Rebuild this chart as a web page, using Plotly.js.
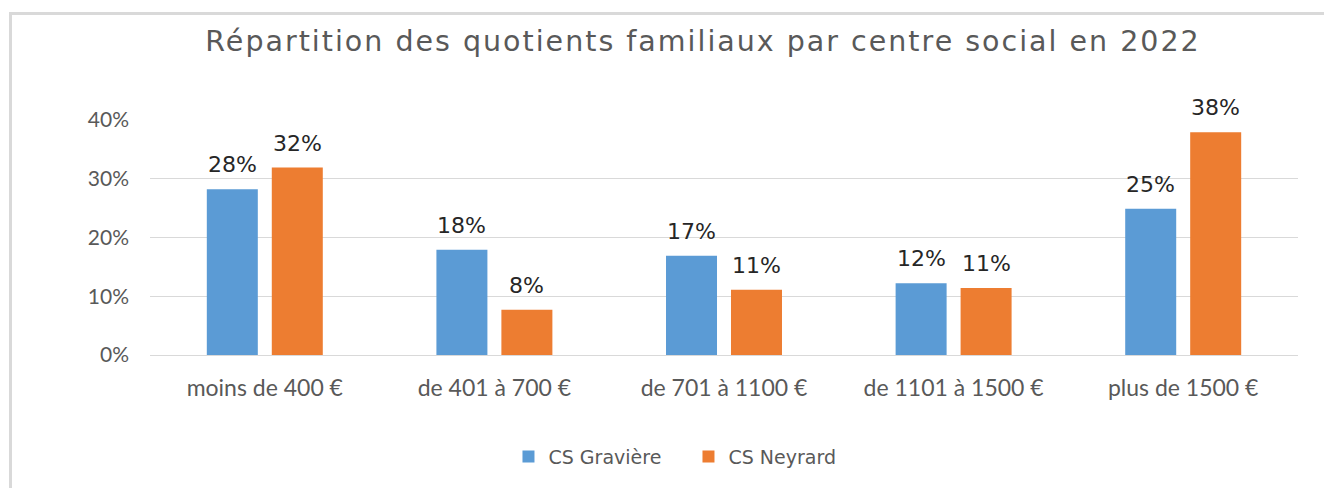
<!DOCTYPE html>
<html>
<head>
<meta charset="utf-8">
<script src="https://cdn.plot.ly/plotly-3.0.1.min.js"></script>
<style>
  html, body { margin: 0; padding: 0; background: #ffffff; }
  #wrap { position: relative; width: 1324px; height: 488px; }
  #chart { width: 1324px; height: 488px; }
  #frame { position: absolute; left: 9px; top: 12px; width: 1320px; height: 480px;
           border-left: 3px solid #d9d9d9; border-top: 3px solid #d9d9d9; pointer-events: none; }
  #chart .gtitle { letter-spacing: 2px; }
</style>
</head>
<body>
<div id="wrap">
  <div id="chart"></div>
  <div id="frame"></div>
</div>
<script>
const categories = ["moins de 400 €", "de 401 à 700 €", "de 701 à 1100 €", "de 1101 à 1500 €", "plus de 1500 €"];
const graviere = [0.282, 0.179, 0.169, 0.122, 0.249];
const neyrard = [0.319, 0.077, 0.111, 0.114, 0.379];
const seriesNames = ["CS Gravière", "CS Neyrard"];
const yTicks = [0, 0.1, 0.2, 0.3, 0.4];

const labelFont = {family: "DejaVu Sans, sans-serif", size: 22, color: "#262626"};

const traces = [
  {type: "bar", name: seriesNames[0], x: categories, y: graviere,
   marker: {color: "#5b9bd5"}, hoverinfo: "skip"},
  {type: "bar", name: seriesNames[1], x: categories, y: neyrard,
   marker: {color: "#ed7d31"}, hoverinfo: "skip"}
];

const annotations = [];
[graviere, neyrard].forEach(function (series, si) {
  series.forEach(function (v, i) {
    annotations.push({
      x: categories[i], y: v, xref: "x", yref: "y",
      text: Math.round(v * 100) + "%", showarrow: false,
      xanchor: "center", yanchor: "bottom", xshift: si === 0 ? -32.5 : 32.5, yshift: 10,
      font: labelFont
    });
  });
});

const layout = {
  width: 1324, height: 488,
  margin: {l: 150, r: 26, t: 120, b: 133},
  paper_bgcolor: "#ffffff", plot_bgcolor: "#ffffff",
  title: {text: "Répartition des quotients familiaux par centre social en 2022",
          font: {family: "DejaVu Sans, sans-serif", size: 28.5, color: "#595959"},
          x: 0.531, xref: "container", xanchor: "center", y: 0.915, yref: "container", yanchor: "middle"},
  barmode: "group", bargap: 0.434, bargroupgap: 0.215,
  xaxis: {type: "category", showgrid: false, zeroline: false, showline: true, linecolor: "#d9d9d9", linewidth: 1,
          ticks: "", ticklabelstandoff: 12,
          tickfont: {family: "Lato, sans-serif", size: 23, color: "#595959"}},
  yaxis: {range: [0, 0.4], tickvals: yTicks, tickformat: ".0%", showgrid: true, gridcolor: "#d9d9d9", gridwidth: 1,
          zeroline: false, showline: false, ticks: "", ticklabelstandoff: 20,
          tickfont: {family: "Lato, sans-serif", size: 21, color: "#595959"}},
  annotations: annotations,
  showlegend: true,
  legend: {orientation: "h", xref: "container", yref: "container", x: 0.52, xanchor: "center",
           y: 0.064, yanchor: "middle", font: {family: "DejaVu Sans, sans-serif", size: 19, color: "#595959"},
           entrywidth: 135, tracegroupgap: 0}
};

Plotly.newPlot("chart", traces, layout, {displayModeBar: false, staticPlot: true});
</script>
</body>
</html>
